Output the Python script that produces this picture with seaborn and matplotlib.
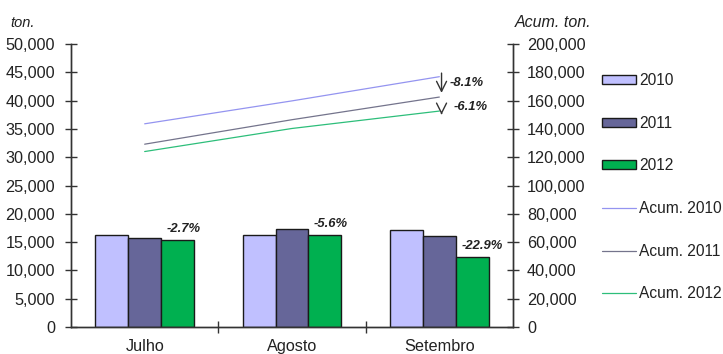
import numpy as np
import pandas as pd
import matplotlib
matplotlib.use("Agg")
import matplotlib.pyplot as plt
import seaborn as sns
from matplotlib.patches import Patch
from matplotlib.lines import Line2D
from matplotlib.ticker import FuncFormatter, MultipleLocator

# Data
months = ["Julho", "Agosto", "Setembro"]
years = ["2010", "2011", "2012"]
monthly_2010 = [16200, 16200, 17100]
monthly_2011 = [15800, 17300, 16000]
monthly_2012 = [15370, 16330, 12340]
acum_2010 = [143600, 159800, 176900]
acum_2011 = [129200, 146500, 162500]
acum_2012 = [124000, 140300, 152600]
month_change = ["-2.7%", "-5.6%", "-22.9%"]
acum_change = ["-8.1%", "-6.1%"]

bar_colors = ["#C0C0FF", "#666699", "#00B050"]
line_colors = ["#9494F0", "#74748C", "#2DBE7A"]

sns.set_style("white")
plt.rcParams["font.family"] = ["Liberation Sans", "DejaVu Sans"]
text_color = "#222222"

df = pd.DataFrame({
    "month": months * 3,
    "year": [y for y in years for _ in months],
    "value": monthly_2010 + monthly_2011 + monthly_2012,
})
df_acum = pd.DataFrame({
    "month": months * 3,
    "year": ["Acum. " + y for y in years for _ in months],
    "value": acum_2010 + acum_2011 + acum_2012,
})

fig = plt.figure(figsize=(7.23, 3.54), dpi=100)
ax = fig.add_axes([71 / 723, 1 - 327 / 354, (513 - 71) / 723, (327 - 44) / 354])

sns.barplot(data=df, x="month", y="value", hue="year", palette=bar_colors,
            saturation=1, width=0.67, gap=0, edgecolor="#1a1a1a", linewidth=1.0,
            legend=False, ax=ax, zorder=2)
ax.set_ylim(0, 50000)
ax.set_xlim(-0.5, 2.5)
ax.yaxis.set_major_locator(MultipleLocator(5000))
ax.yaxis.set_major_formatter(FuncFormatter(lambda v, p: f"{v:,.0f}"))
ax.set_xlabel("")
ax.set_ylabel("")

ax2 = ax.twinx()
sns.lineplot(data=df_acum, x="month", y="value", hue="year", palette=line_colors,
             linewidth=0.9, legend=False, ax=ax2, sort=False)
ax2.set_ylim(0, 200000)
ax2.yaxis.set_major_locator(MultipleLocator(20000))
ax2.yaxis.set_major_formatter(FuncFormatter(lambda v, p: f"{v:,.0f}"))
ax2.set_xlabel("")
ax2.set_ylabel("")
ax.set_xlim(-0.5, 2.5)

for a in (ax, ax2):
    a.spines["top"].set_visible(False)
    for s in ("left", "right", "bottom"):
        a.spines[s].set_color("#333333")
        a.spines[s].set_linewidth(1.0)

ax.tick_params(axis="y", direction="inout", length=8.6, width=1, color="#333333",
               pad=7.2, labelsize=11.7, labelcolor=text_color, left=True)
ax2.tick_params(axis="y", direction="inout", length=8.6, width=1, color="#333333",
                pad=5.7, labelsize=11.7, labelcolor=text_color, right=True)
ax.set_xticks(range(len(months)))
ax.set_xticklabels(months)
ax.tick_params(axis="x", length=0, pad=8.6, labelsize=11.7, labelcolor=text_color)
ax.set_xticks([0.5, 1.5], minor=True)
ax.tick_params(axis="x", which="minor", direction="inout", length=8.6, width=1,
               color="#333333", bottom=True)

# percent labels over the 2012 bars
bars_2012 = ax.containers[2]
for rect, lab in zip(bars_2012, month_change):
    ax.annotate(lab, (rect.get_x(), rect.get_height()), xytext=(4, 3.5),
                textcoords="offset points", ha="left", va="bottom",
                fontsize=9.4, fontweight="bold", fontstyle="italic", color=text_color)

# arrows between cumulative lines at the end
ends = [acum_2010[-1], acum_2011[-1], acum_2012[-1]]
ax2.annotate("", xy=(2.015, ends[1] + 1000), xytext=(2.015, ends[0] + 4500),
             arrowprops=dict(arrowstyle="->", color="#333333", lw=1.0,
                             mutation_scale=18))
ax2.annotate("", xy=(2.015, ends[2] - 4500), xytext=(2.015, ends[2] + 500),
             arrowprops=dict(arrowstyle="->", color="#333333", lw=1.0,
                             mutation_scale=18))
ax2.annotate(acum_change[0], (2.015, (ends[0] + ends[1]) / 2 + 2500), xytext=(6, 0),
             textcoords="offset points", ha="left", va="center",
             fontsize=9.4, fontweight="bold", fontstyle="italic", color=text_color)
ax2.annotate(acum_change[1], (2.015, (ends[1] + ends[2]) / 2 - 2000), xytext=(9, 0),
             textcoords="offset points", ha="left", va="center",
             fontsize=9.4, fontweight="bold", fontstyle="italic", color=text_color)

# axis titles
fig.text(10 / 723, 1 - 23 / 354, "ton.", fontsize=10.5, fontstyle="italic",
         color=text_color, ha="left", va="center")
fig.text(515 / 723, 1 - 22.7 / 354, "Acum. ton.", fontsize=11.5, fontstyle="italic",
         color=text_color, ha="left", va="center")

# legend
handles = [Patch(facecolor=c, edgecolor="#1a1a1a", linewidth=1.0) for c in bar_colors]
handles += [Line2D([0], [0], color=c, lw=0.9) for c in line_colors]
labels = years + ["Acum. " + y for y in years]
fig.legend(handles, labels, loc="upper left", bbox_to_anchor=(602 / 723, 1 - 73 / 354),
           frameon=False, fontsize=11.2, labelspacing=1.78, handlelength=2.2,
           handleheight=0.5, handletextpad=0.2, borderpad=0, borderaxespad=0,
           labelcolor=text_color)

fig.savefig("out.png", dpi=100)
